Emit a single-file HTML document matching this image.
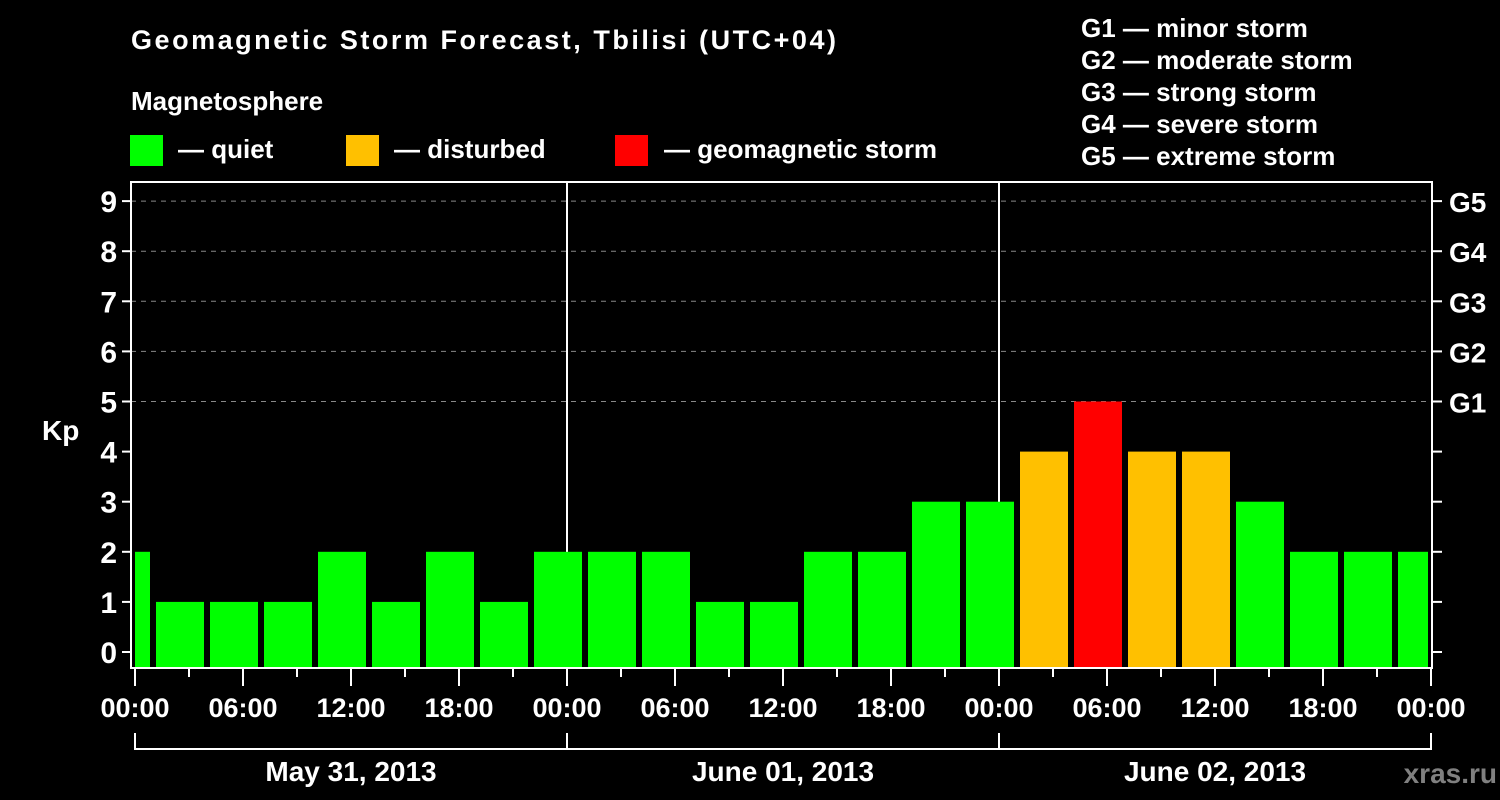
<!DOCTYPE html>
<html><head><meta charset="utf-8"><style>
html,body{margin:0;padding:0;background:#000;}
svg{display:block;font-family:"Liberation Sans",Arial,sans-serif;font-weight:bold;}
</style></head><body>
<svg width="1500" height="800" viewBox="0 0 1500 800">
<rect x="0" y="0" width="1500" height="800" fill="#000"/>
<text x="131" y="49" fill="#fff" font-size="27" textLength="705">Geomagnetic Storm Forecast, Tbilisi (UTC+04)</text>
<text x="131" y="110" fill="#fff" font-size="26">Magnetosphere</text>
<g>
<rect x="130" y="135" width="33" height="31" fill="#00ff00"/>
<text x="178" y="158" fill="#fff" font-size="26">— quiet</text>
<rect x="346" y="135" width="33" height="31" fill="#ffc000"/>
<text x="394" y="158" fill="#fff" font-size="26">— disturbed</text>
<rect x="615" y="135" width="33" height="31" fill="#ff0000"/>
<text x="664" y="158" fill="#fff" font-size="26">— geomagnetic storm</text>
</g>
<g fill="#fff" font-size="26">
<text x="1081" y="37">G1 — minor storm</text>
<text x="1081" y="69">G2 — moderate storm</text>
<text x="1081" y="101">G3 — strong storm</text>
<text x="1081" y="133">G4 — severe storm</text>
<text x="1081" y="165">G5 — extreme storm</text>
</g>
<text x="42" y="440" fill="#fff" font-size="28">Kp</text>
<text x="1497" y="783" fill="#808080" font-size="28" text-anchor="end">xras.ru</text>
<g id="grid"></g>
<g id="bars"></g>
<g id="axes"></g>
</svg>
<script>
const kpValues=[2,1,1,1,2,1,2,1,2,2,2,1,1,2,2,3,3,4,5,4,4,3,2,2,2];
const yTicks=[0,1,2,3,4,5,6,7,8,9];
const gLabels=["G1","G2","G3","G4","G5"];
const gLevels=[5,6,7,8,9];
const timeLabels=["00:00","06:00","12:00","18:00"];
const dateLabels=["May 31, 2013","June 01, 2013","June 02, 2013"];
const firstBarHour=-1.8333;
const NS="http://www.w3.org/2000/svg";
const X0=135,PXH=18,PL=131,PR=1432,PT=182,PB=668;
const xs=h=>X0+h*PXH;
const ys=v=>652-v*50.1;
function mk(tag,attrs,parent){const e=document.createElementNS(NS,tag);for(const k in attrs)e.setAttribute(k,attrs[k]);parent.appendChild(e);return e;}
const grid=document.getElementById('grid'),bars=document.getElementById('bars'),axes=document.getElementById('axes');
// gridlines
gLevels.forEach(v=>{
 const l=mk('line',{x1:PL,x2:PR,y1:ys(v),y2:ys(v),stroke:'#888','stroke-width':1,'stroke-dasharray':'5,5'},grid);
 
 
});
// day separators
for(let d=1;d<dateLabels.length;d++){
 const l=mk('line',{x1:xs(d*24),x2:xs(d*24),y1:PT,y2:PB,stroke:'#fff','stroke-width':2},grid);
 
 
}
// bars
kpValues.forEach((v,i)=>{
 let x1=xs(firstBarHour+i*3),x2=x1+48;
 x1=Math.max(x1,X0);x2=Math.min(x2,1428);
 const c=v>=5?'#ff0000':(v>=4?'#ffc000':'#00ff00');
 const r=mk('rect',{x:x1,y:ys(v),width:x2-x1,height:PB-ys(v),fill:c},bars);
 
 
});
// frame
const f=mk('rect',{x:PL,y:PT,width:PR-PL,height:PB-PT,fill:'none',stroke:'#fff','stroke-width':2},axes);


// y ticks
yTicks.forEach(v=>{
 mk('line',{x1:122,x2:PL,y1:ys(v),y2:ys(v),stroke:'#fff','stroke-width':2},axes);
 mk('line',{x1:PR,x2:1442,y1:ys(v),y2:ys(v),stroke:'#fff','stroke-width':2},axes);
 const t=mk('text',{x:117,y:ys(v)+11,fill:'#fff','font-size':30,'text-anchor':'end'},axes);
 t.textContent=v;
 
 
});
gLevels.forEach((v,i)=>{
 const t=mk('text',{x:1449,y:ys(v)+11,fill:'#fff','font-size':28},axes);
 t.textContent=gLabels[i];
 
 
});
// x ticks
const totalH=dateLabels.length*24;
for(let h=0;h<=totalH;h+=3){
 const long=h%6===0;
 mk('line',{x1:xs(h),x2:xs(h),y1:PB,y2:long?686:677,stroke:'#fff','stroke-width':2},axes);
 if(long){
  const t=mk('text',{x:xs(h),y:717,fill:'#fff','font-size':27,'text-anchor':'middle'},axes);
  t.textContent=timeLabels[(h/6)%4];
  
  
 }
}
// date bracket
mk('line',{x1:xs(0),x2:xs(totalH),y1:749,y2:749,stroke:'#fff','stroke-width':2},axes);
for(let d=0;d<=dateLabels.length;d++){
 mk('line',{x1:xs(d*24),x2:xs(d*24),y1:733,y2:750,stroke:'#fff','stroke-width':2},axes);
}
dateLabels.forEach((s,d)=>{
 const t=mk('text',{x:xs(d*24+12),y:781,fill:'#fff','font-size':28,'text-anchor':'middle'},axes);
 t.textContent=s;
 
 
});
</script>
</body></html>
